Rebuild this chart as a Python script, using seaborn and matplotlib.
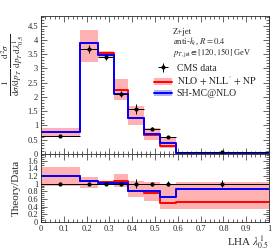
import matplotlib
matplotlib.use('Agg')
import matplotlib.pyplot as plt
import seaborn as sns
import numpy as np
from matplotlib.ticker import MultipleLocator, FuncFormatter
from matplotlib.patches import Patch
from matplotlib.lines import Line2D

# binning in LHA lambda^1_0.5
bin_edges = [0.0, 0.17, 0.25, 0.32, 0.38, 0.45, 0.52, 0.59, 1.0]

# normalised distributions
cms_data = [0.63, 3.68, 3.39, 2.10, 1.57, 0.88, 0.58, 0.055]
cms_err = [0.02, 0.15, 0.08, 0.11, 0.18, 0.05, 0.035, 0.005]
nlo_nll = [0.76, 3.90, 3.56, 2.23, 1.26, 0.66, 0.29, 0.028]
nlo_nll_lo = [0.59, 3.24, 3.39, 1.91, 1.02, 0.48, 0.20, 0.019]
nlo_nll_hi = [0.91, 4.34, 3.63, 2.63, 1.70, 0.92, 0.57, 0.057]
sherpa = [0.76, 3.90, 3.46, 2.12, 1.27, 0.70, 0.38, 0.048]

PINK = '#ffb0b0'
LBLUE = '#b0b0ff'

sns.set_style('ticks')
plt.rcParams['font.family'] = ['Liberation Serif', 'DejaVu Serif']
plt.rcParams['mathtext.fontset'] = 'stix'


def step(vals):
    return list(vals) + [vals[-1]]


edges = np.array(bin_edges)
centers = (edges[:-1] + edges[1:]) / 2
half = (edges[1:] - edges[:-1]) / 2
data = np.array(cms_data)

fig = plt.figure(figsize=(2.8, 2.5), dpi=100)
ax = fig.add_axes([0.146, 0.384, 0.815, 0.553])
rax = fig.add_axes([0.146, 0.113, 0.815, 0.271], sharex=ax)

# main panel
ax.fill_between(edges, step(nlo_nll_lo), step(nlo_nll_hi), step='post', color=PINK, lw=0)
sns.lineplot(x=edges, y=step(nlo_nll), drawstyle='steps-post', color='red', lw=1.4, ax=ax)
sns.lineplot(x=edges, y=step(sherpa), drawstyle='steps-post', color='blue', lw=1.4, ax=ax)
eb = ax.errorbar(centers, data, yerr=cms_err, xerr=half, fmt='o', ms=2, color='black',
                 elinewidth=0.7, capsize=0, zorder=5)

# ratio panel
rax.fill_between(edges, step(np.array(nlo_nll_lo) / data), step(np.array(nlo_nll_hi) / data),
                 step='post', color=PINK, lw=0)
rax.axhline(1, color='black', lw=0.7, zorder=4)
sns.lineplot(x=edges, y=step(np.array(nlo_nll) / data), drawstyle='steps-post', color='red', lw=1.4, ax=rax)
sns.lineplot(x=edges, y=step(np.array(sherpa) / data), drawstyle='steps-post', color='blue', lw=1.4, ax=rax)
rax.errorbar(centers, np.ones_like(data), yerr=np.array(cms_err) / data, xerr=half, fmt='o', ms=2,
             color='black', elinewidth=0.7, capsize=0, zorder=5)

fmt = FuncFormatter(lambda v, p: ('%g' % round(v, 2)))
for a in (ax, rax):
    a.set_xlim(0, 1)
    a.tick_params(which='both', direction='in', top=True, right=True, labelsize=6, width=0.5, pad=2)
    a.tick_params(which='major', length=4)
    a.tick_params(which='minor', length=2)
    a.xaxis.set_major_locator(MultipleLocator(0.1))
    a.xaxis.set_minor_locator(MultipleLocator(0.02))
    for s in a.spines.values():
        s.set_linewidth(0.6)

ax.set_ylim(0, 4.85)
ax.yaxis.set_major_locator(MultipleLocator(0.5))
ax.yaxis.set_minor_locator(MultipleLocator(0.1))
ax.yaxis.set_major_formatter(fmt)
ax.tick_params(labelbottom=False)
ax.set_xlabel('')
ax.set_ylabel(r'$\frac{1}{\mathrm{d}\sigma/\mathrm{d}p_T}\,\frac{\mathrm{d}^2\sigma}{\mathrm{d}p_T\,\mathrm{d}\lambda^1_{0.5}}$',
              fontsize=9.5)
ax.yaxis.set_label_coords(-0.065, 0.645)

rax.set_ylim(0, 1.78)
rax.yaxis.set_major_locator(MultipleLocator(0.2))
rax.yaxis.set_minor_locator(MultipleLocator(0.05))
rax.yaxis.set_major_formatter(fmt)
rax.xaxis.set_major_formatter(fmt)
rax.set_ylabel('Theory/Data', fontsize=8)
rax.yaxis.set_label_coords(-0.09, 0.5)
rax.set_xlabel(r'LHA $\lambda^1_{0.5}$', fontsize=8, loc='right', labelpad=1)

ax.text(0.578, 0.885, 'Z+jet', transform=ax.transAxes, fontsize=6.3, va='center')
ax.text(0.578, 0.815, r'anti-$k_t$, $R=0.4$', transform=ax.transAxes, fontsize=6.3, va='center')
ax.text(0.578, 0.735, r'$p_{T,\mathrm{jet}}\in[120,150]$ GeV', transform=ax.transAxes, fontsize=6, va='center')

handles = [eb,
           (Patch(color=PINK, lw=0), Line2D([], [], color='red', lw=1.4)),
           (Patch(color=LBLUE, lw=0), Line2D([], [], color='blue', lw=1.4))]
labels = ['CMS data', r'$\mathrm{NLO}\,+\,\mathrm{NLL}^{\prime}\,+\,\mathrm{NP}$', 'SH-MC@NLO']
ax.legend(handles, labels, loc='upper left', bbox_to_anchor=(0.48, 0.68), frameon=False,
          fontsize=7, handlelength=1.8, handletextpad=0.5, labelspacing=0.15, borderaxespad=0)

fig.savefig('out.png', dpi=100)
